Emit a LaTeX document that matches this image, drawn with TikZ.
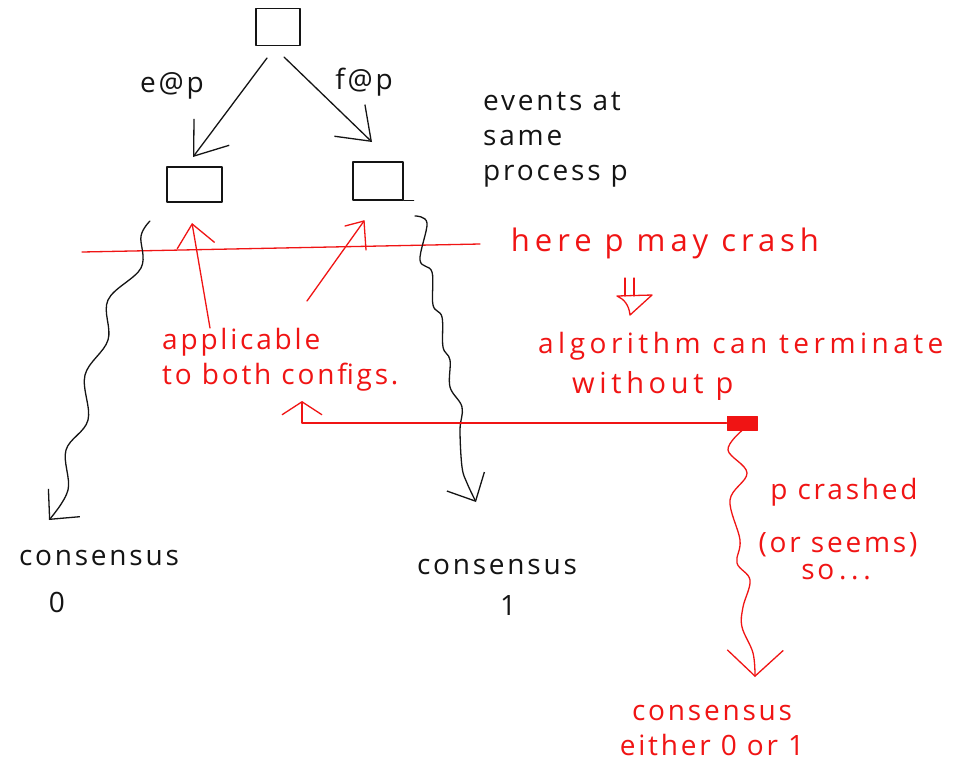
\documentclass[tikz,border=0pt]{standalone}
\usepackage{fontspec}
\newfontfamily\hand[LetterSpace=10]{Open Sans}
\newfontfamily\handwide[LetterSpace=16]{Open Sans}
\usetikzlibrary{arrows.meta}
\definecolor{pen}{RGB}{20,20,20}
\definecolor{rpen}{RGB}{240,20,20}
\begin{document}
\begin{tikzpicture}[x=1pt,y=-1pt,line cap=round,line join=round,
  ink/.style={draw=pen,line width=1.3pt},
  rink/.style={draw=rpen,line width=1.3pt},
  barb/.style={-{Straight Barb[length=30pt,width=44pt,line width=1.3pt]}},
  wbarb/.style={-{Straight Barb[length=22pt,width=42pt,line width=1.3pt]}},
  rbarb/.style={-{Straight Barb[length=26pt,width=56pt,line width=1.3pt]}},
  cfg/.style={ink,rectangle,inner sep=0pt},
  txt/.style={font=\hand\fontsize{28}{35}\selectfont,inner sep=0pt,text=pen},
  rtxt/.style={txt,text=rpen}]
\useasboundingbox[fill=white] (0,0) rectangle (971,764);

% configurations
\node[cfg,minimum width=44pt,minimum height=37pt] (top) at (278,27) {};
\node[cfg,minimum width=55pt,minimum height=35pt] (lb) at (194.5,184.5) {};
\node[cfg,minimum width=50pt,minimum height=38pt] (rb) at (378,181) {};
\draw[ink] (rb.south east) -- ++(10,0);

% event arrows
\coordinate (t1) at (267,58);
\coordinate (l1) at (193,157);
\coordinate (t2) at (284,57);
\coordinate (r1) at (372,142);
\draw[ink,barb] (t1) -- (l1);
\draw[ink,barb] (t2) -- (r1);
\node[txt] (ep) at (172,86) {e@p};
\node[txt] (fp) at (364,82) {f@p};
\node[txt,anchor=north west,align=left] (ev) at (483,92) {events at\\same\\process p};

% crash line
\coordinate (hl) at (82,252);
\coordinate (hr) at (480,244);
\draw[rink] (hl) -- (hr);
\node[rtxt,font=\handwide\fontsize{31}{35}\selectfont] (crashtxt) at (665,243) {here p may crash};
% implication sign
\coordinate (impl) at (632,296);
\draw[rink] (625,278) -- (625,296) (634,278) -- (634,296);
\draw[rink] (617,296) -- (652,295) -- (630,315) .. controls (629,305) and (624,299) .. (617,296);
\node[rtxt,font=\handwide\fontsize{28}{35}\selectfont,anchor=west] (alg1) at (538,346) {algorithm can terminate};
\node[rtxt,font=\handwide\fontsize{29}{35}\selectfont,anchor=west] (alg2) at (572,386) {without p};

% applicable arrows
\node[rtxt,anchor=north west,align=left] (appl) at (162,328) {applicable\\to both configs.};
\coordinate (a1t) at (210,328);
\coordinate (a1h) at (192,223);
\draw[rink,-{Straight Barb[length=22pt,width=38pt,line width=1.3pt]}] (a1t) -- (a1h);
\coordinate (a2t) at (307,301);
\coordinate (a2h) at (364,221);
\draw[rink] (a2t) -- (a2h);
\draw[rink] (345,226) -- (a2h) -- (366,250);

% consensus branches
\coordinate (w0) at (150,221);
\draw[ink,wbarb] plot[smooth,tension=0.6] coordinates {(w0) (141,236) (141,268) (108,300) (108,340) (85,375) (88,420) (66,450) (68,490) (49,520)};
\node[txt] (c0) at (99,558) {consensus};
\node[txt] (z0) at (57,602) {0};

\coordinate (w1) at (415,216);
\draw[ink,wbarb] plot[smooth,tension=0.6] coordinates {(w1) (427,223) (420,260) (432,272) (433,305) (442,317) (443,347) (450,360) (450,387) (462,407) (460,430) (462,467) (467,483) (476,502)};
\node[txt] (c1) at (497,567) {consensus};
\node[txt] (one) at (508,605) {1};

% crash point
\node[fill=rpen,draw=rpen,line width=1pt,minimum width=30pt,minimum height=14pt,inner sep=0pt] (crash) at (742,423) {};
\coordinate (back) at (302,401);
\draw[rink,-{Straight Barb[length=13pt,width=40pt,line width=1.3pt]}] (crash.west) -| (back);

\draw[rink,rbarb] plot[smooth,tension=0.6] coordinates {(crash.south) (728,450) (747,473) (730,500) (740,540) (737,563) (750,580) (743,607) (742,627) (753,653) (755,677)};
\node[rtxt] (pc1) at (844,492) {p crashed};
\node[rtxt] (pc2) at (838,545) {(or seems)};
\node[rtxt] (pc3) at (836,572) {so\,.\,.\,.};
\node[rtxt,align=center] (ce) at (712,730) {consensus\\either 0 or 1};
\end{tikzpicture}
\end{document}
